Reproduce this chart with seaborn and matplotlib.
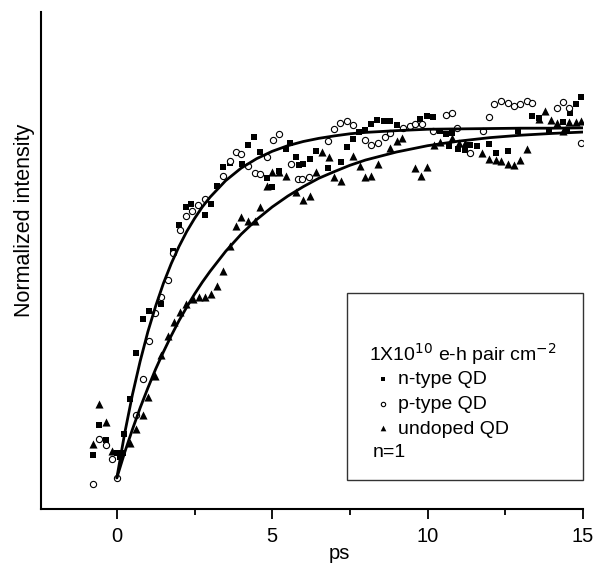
import matplotlib
matplotlib.use('Agg')
import matplotlib.pyplot as plt
import matplotlib.patches as mpatches
import seaborn as sns

# scatter data: delay (ps) and normalized intensity
n_t = [-0.76, -0.57, -0.35, 0.0, 0.1, 0.2, 0.22, 0.42, 0.63, 0.83, 1.03, 1.43, 1.81, 2.0, 2.22, 2.4,
       2.83, 3.03, 3.23, 3.42, 3.63, 4.04, 4.22, 4.4, 4.6, 4.83, 5.0, 5.22, 5.43, 5.58, 5.77, 5.85,
       6.0, 6.2, 6.4, 6.8, 7.22, 7.4, 7.6, 7.8, 7.97, 8.19, 8.37, 8.59, 8.78, 9.0, 9.76, 9.97, 10.17,
       10.4, 10.58, 10.7, 10.8, 10.97, 11.19, 11.37, 11.58, 11.97, 12.19, 12.58, 12.9, 13.36, 13.58,
       13.9, 14.35, 14.5, 14.59, 14.76, 14.94]
n_y = [0.066, 0.15, 0.107, 0.07, 0.06, 0.07, 0.126, 0.226, 0.357, 0.455, 0.478, 0.497, 0.647, 0.723,
       0.774, 0.783, 0.752, 0.783, 0.834, 0.888, 0.899, 0.897, 0.951, 0.975, 0.932, 0.856, 0.83, 0.877,
       0.939, 0.957, 0.918, 0.894, 0.897, 0.91, 0.935, 0.885, 0.901, 0.945, 0.968, 0.987, 0.994, 1.011,
       1.021, 1.019, 1.019, 1.009, 1.025, 1.034, 1.032, 0.99, 0.983, 0.947, 0.985, 0.939, 0.937, 0.951,
       0.949, 0.954, 0.929, 0.935, 0.99, 1.035, 1.028, 0.995, 1.016, 0.99, 1.042, 1.069, 1.088]

p_t = [-0.76, -0.57, -0.35, -0.14, 0.01, 0.61, 0.83, 1.03, 1.22, 1.43, 1.65, 1.81, 2.03, 2.24, 2.43,
       2.61, 2.83, 3.42, 3.63, 3.83, 4.0, 4.22, 4.44, 4.6, 4.83, 5.03, 5.22, 5.61, 5.83, 5.97, 6.18,
       6.8, 7.0, 7.19, 7.4, 7.6, 7.97, 8.19, 8.4, 8.62, 8.78, 9.2, 9.42, 9.61, 9.83, 10.17, 10.58,
       10.79, 10.96, 11.35, 11.77, 11.99, 12.15, 12.37, 12.58, 12.77, 12.96, 13.19, 13.36, 14.16,
       14.37, 14.56, 14.94]
p_y = [-0.017, 0.11, 0.094, 0.054, 0.0, 0.18, 0.283, 0.392, 0.47, 0.516, 0.566, 0.643, 0.709, 0.749,
       0.761, 0.78, 0.796, 0.861, 0.905, 0.93, 0.926, 0.891, 0.87, 0.869, 0.916, 0.964, 0.983, 0.897,
       0.853, 0.853, 0.859, 0.962, 0.996, 1.015, 1.019, 1.009, 0.965, 0.951, 0.958, 0.974, 0.985, 0.999,
       1.006, 1.011, 1.011, 0.992, 1.037, 1.042, 1.0, 0.929, 0.992, 1.032, 1.069, 1.078, 1.071, 1.061,
       1.069, 1.078, 1.071, 1.056, 1.073, 1.056, 0.956]

u_t = [-0.78, -0.57, -0.35, -0.17, 0.42, 0.61, 0.83, 1.0, 1.22, 1.43, 1.65, 1.83, 2.03, 2.24, 2.45,
       2.65, 2.85, 3.04, 3.23, 3.42, 3.63, 3.83, 4.0, 4.22, 4.44, 4.6, 4.83, 5.0, 5.22, 5.43, 5.77,
       6.0, 6.2, 6.4, 6.61, 6.83, 7.0, 7.22, 7.6, 7.81, 8.0, 8.19, 8.4, 8.78, 9.0, 9.18, 9.58, 9.8,
       9.97, 10.2, 10.4, 10.79, 11.0, 11.2, 11.76, 11.97, 12.19, 12.37, 12.58, 12.77, 12.98, 13.19,
       13.58, 13.79, 13.97, 14.16, 14.35, 14.56, 14.78, 14.94]
u_y = [0.097, 0.21, 0.16, 0.078, 0.1, 0.14, 0.18, 0.232, 0.29, 0.35, 0.404, 0.444, 0.475, 0.497, 0.51,
       0.516, 0.518, 0.525, 0.548, 0.592, 0.663, 0.72, 0.745, 0.735, 0.735, 0.775, 0.833, 0.873, 0.873,
       0.863, 0.818, 0.793, 0.806, 0.875, 0.93, 0.918, 0.859, 0.847, 0.92, 0.891, 0.859, 0.863, 0.897,
       0.942, 0.962, 0.971, 0.885, 0.861, 0.888, 0.95, 0.96, 0.971, 0.958, 0.957, 0.929, 0.91, 0.907,
       0.905, 0.897, 0.894, 0.907, 0.939, 1.025, 1.047, 1.021, 1.013, 0.99, 1.016, 1.016, 1.019]

# fitted curves
fit_t = [0, 0.25, 0.5, 0.75, 1, 1.25, 1.5, 1.75, 2, 2.25, 2.5, 2.75, 3, 3.5, 4, 4.5, 5, 5.5, 6,
         6.5, 7, 7.5, 8, 9, 10, 11, 12, 13, 14, 15]
fit_fast = [0, 0.126, 0.237, 0.333, 0.418, 0.491, 0.556, 0.612, 0.661, 0.704, 0.741, 0.774, 0.802,
            0.849, 0.885, 0.912, 0.933, 0.949, 0.961, 0.970, 0.977, 0.983, 0.987, 0.992, 0.996, 0.997,
            0.998, 0.999, 0.999, 1.0]
fit_slow = [0, 0.072, 0.138, 0.200, 0.257, 0.311, 0.360, 0.406, 0.449, 0.488, 0.525, 0.559, 0.590,
            0.647, 0.696, 0.738, 0.774, 0.805, 0.832, 0.856, 0.875, 0.893, 0.908, 0.931, 0.949, 0.962,
            0.972, 0.979, 0.984, 0.988]

sns.set_style('ticks', {'axes.edgecolor': 'black', 'text.color': 'black',
                        'axes.labelcolor': 'black', 'xtick.color': 'black'})
plt.rcParams['font.family'] = ['Liberation Sans', 'DejaVu Sans']

fig = plt.figure(figsize=(5.96, 5.63), dpi=100)
ax = fig.add_axes([0.0688, 0.0959, 0.9094, 0.8828])

sns.lineplot(x=fit_t, y=fit_fast, color='k', lw=2.0, ax=ax, legend=False)
sns.lineplot(x=fit_t, y=fit_slow, color='k', lw=2.0, ax=ax, legend=False)

sns.scatterplot(x=n_t, y=n_y, marker='s', color='k', edgecolor='k', linewidth=0, s=20, ax=ax)
sns.scatterplot(x=p_t, y=p_y, marker='o', color='white', edgecolor='k', linewidth=0.8, s=20, ax=ax)
sns.scatterplot(x=u_t, y=u_y, marker='^', color='k', edgecolor='k', linewidth=0, s=34, ax=ax)

ax.set_xlim(-2.44, 15)
ax.set_ylim(-0.089, 1.331)
ax.set_xticks([0, 5, 10, 15])
ax.set_xticks([2.5, 7.5, 12.5], minor=True)
ax.set_yticks([])
ax.tick_params(axis='x', which='major', direction='out', length=7, width=1.3, labelsize=14.5,
               pad=6, colors='black')
ax.tick_params(axis='x', which='minor', direction='out', length=4, width=1.3, colors='black')
for side in ['top', 'right']:
    ax.spines[side].set_visible(False)
for side in ['left', 'bottom']:
    ax.spines[side].set_linewidth(1.5)
    ax.spines[side].set_color('black')

ax.set_xlabel('ps', fontsize=14.5, labelpad=0, color='black')
ax.xaxis.set_label_coords(0.55, -0.07)
ax.set_ylabel('Normalized intensity', fontsize=15.5, color='black')
ax.yaxis.set_label_coords(-0.012, 0.58)

# legend box
ax.add_patch(mpatches.Rectangle((0.564, 0.0584), 0.436, 0.3756, transform=ax.transAxes,
                                fill=False, edgecolor='#333333', lw=1.0, clip_on=False))
ax.text(0.605, 0.312, '1X10$^{10}$ e-h pair cm$^{-2}$', transform=ax.transAxes,
        fontsize=14, va='center', ha='left', color='black')
handles = ax.collections[-3:]
leg = ax.legend(handles, ['n-type QD', 'p-type QD', 'undoped QD'], fontsize=14,
                loc='center left', bbox_to_anchor=(0.613, 0.211), frameon=False,
                handletextpad=0.25, handlelength=1.0, markerscale=0.7,
                labelspacing=0.36, borderpad=0, borderaxespad=0, labelcolor='black')
ax.text(0.612, 0.113, 'n=1', transform=ax.transAxes, fontsize=14, va='center', ha='left',
        color='black')

plt.savefig('out.png', dpi=100)
